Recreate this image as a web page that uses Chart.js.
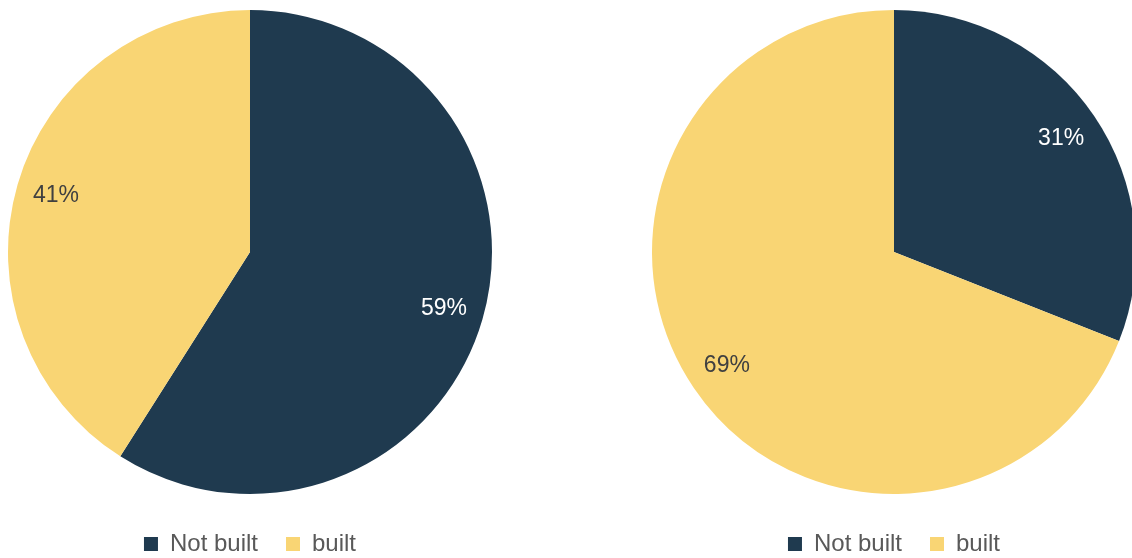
<!DOCTYPE html>
<html>
<head>
<meta charset="utf-8">
<script src="https://cdn.jsdelivr.net/npm/chart.js@4/dist/chart.umd.min.js"></script>
<style>
    html, body { margin: 0; padding: 0; background: #fff; }
    .wrap { position: relative; width: 1132px; height: 558px; overflow: hidden; }
    .wrap canvas { position: absolute; top: 0; }
    #pieLeft { left: 0; }
    #pieRight { left: 644px; }
</style>
</head>
<body>
<div class="wrap">
    <canvas id="pieLeft" width="500" height="566"></canvas>
    <canvas id="pieRight" width="500" height="566"></canvas>
</div>
<script>
// ── Data ──
const categories = ['Not built', 'built'];
const leftValues = [59, 41];
const rightValues = [31, 69];

const sliceColors = ['#1f3a4f', '#f9d574'];
const labelColors = ['#ffffff', '#404040'];
const FONT = "'Liberation Sans', Arial, sans-serif";

// ── Percent labels inside slices ──
const sliceLabels = {
    id: 'sliceLabels',
    afterDatasetsDraw(chart) {
        const ctx = chart.ctx;
        const meta = chart.getDatasetMeta(0);
        const values = chart.data.datasets[0].data;
        ctx.save();
        ctx.font = `23px ${FONT}`;
        ctx.textAlign = 'center';
        ctx.textBaseline = 'middle';
        meta.data.forEach((arc, i) => {
            const p = arc.getProps(['x', 'y', 'startAngle', 'endAngle', 'outerRadius'], true);
            const mid = (p.startAngle + p.endAngle) / 2;
            const r = p.outerRadius * 0.835;
            ctx.fillStyle = labelColors[i];
            ctx.fillText(values[i] + '%', p.x + Math.cos(mid) * r, p.y + Math.sin(mid) * r);
        });
        ctx.restore();
    }
};

// ── Create Pie ──
function createPie(canvasId, values) {
    return new Chart(document.getElementById(canvasId), {
        type: 'pie',
        data: {
            labels: categories,
            datasets: [{
                data: values,
                backgroundColor: sliceColors,
                borderWidth: 0,
                radius: 242,
                hoverOffset: 0
            }]
        },
        options: {
            responsive: false,
            animation: false,
            devicePixelRatio: 1,
            layout: { padding: 0 },
            plugins: {
                tooltip: { enabled: false },
                legend: {
                    position: 'bottom',
                    labels: {
                        boxWidth: 14,
                        boxHeight: 14,
                        padding: 28,
                        color: '#595959',
                        font: { family: FONT, size: 24 }
                    }
                }
            }
        },
        plugins: [sliceLabels]
    });
}

createPie('pieLeft', leftValues);
createPie('pieRight', rightValues);
</script>
</body>
</html>
